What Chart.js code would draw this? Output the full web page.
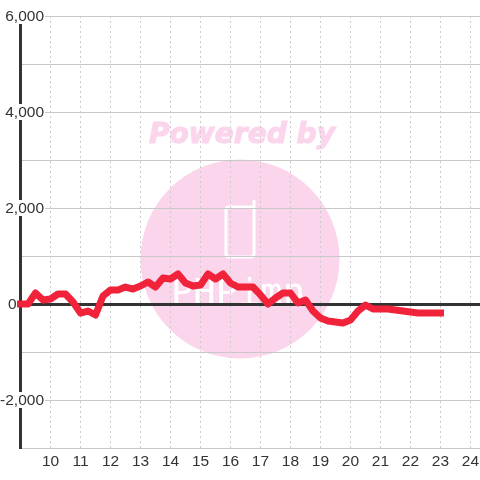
<!DOCTYPE html>
<html>
<head>
<meta charset="utf-8">
<style>
  html, body { margin: 0; padding: 0; background: #fff; }
  canvas { display: block; }
</style>
<script src="https://cdn.jsdelivr.net/npm/chart.js@4/dist/chart.umd.min.js"></script>
</head>
<body>
<canvas id="chart" width="480" height="480"></canvas>
<script>
// hour of day, one reading every 15 minutes
const hours = [
  9, 9.25, 9.5, 9.75, 10, 10.25, 10.5, 10.75, 11, 11.25, 11.5, 11.75,
  12, 12.25, 12.5, 12.75, 13, 13.25, 13.5, 13.75, 14, 14.25, 14.5, 14.75,
  15, 15.25, 15.5, 15.75, 16, 16.25, 16.5, 16.75, 17, 17.25, 17.5, 17.75,
  18, 18.25, 18.5, 18.75, 19, 19.25, 19.5, 19.75, 20, 20.25, 20.5, 20.75,
  21, 21.25, 21.5, 21.75, 22, 22.25, 22.5, 22.75, 23
];
const values = [
  0, 0, 229, 83, 104, 208, 208, 42, -188, -146, -229, 167,
  292, 292, 354, 312, 375, 458, 354, 542, 521, 625, 438, 375,
  396, 625, 521, 625, 438, 354, 354, 354, 188, 0, 125, 229,
  229, 21, 83, -146, -292, -354, -375, -396, -333, -146, -21, -104,
  -104, -104, -125, -146, -167, -188, -188, -188, -188
];
const xTicks = [10, 11, 12, 13, 14, 15, 16, 17, 18, 19, 20, 21, 22, 23, 24];
const yTickLabels = [6000, 4000, 2000, 0, -2000];

const INK = '#333333';
const GRID = '#c8c8c8';
const PINK = '#fbd5ec';

// pale logo behind the grid
const watermark = {
  id: 'watermark',
  beforeDraw(chart) {
    const ctx = chart.ctx;
    ctx.save();
    ctx.fillStyle = '#ffffff';
    ctx.fillRect(0, 0, chart.width, chart.height);

    ctx.fillStyle = PINK;
    ctx.strokeStyle = PINK;
    ctx.lineWidth = 1.2;
    ctx.font = 'italic bold 29px "DejaVu Sans"';
    ctx.textAlign = 'center';
    ctx.textBaseline = 'middle';
    ctx.fillText('Powered by', 242, 135.5, 186);
    ctx.strokeText('Powered by', 242, 135.5, 186);

    ctx.beginPath();
    ctx.arc(240, 259, 99.5, 0, Math.PI * 2);
    ctx.fill();

    // handset
    ctx.strokeStyle = '#ffffff';
    ctx.lineWidth = 3;
    ctx.lineJoin = 'round';
    ctx.lineCap = 'round';
    ctx.beginPath();
    ctx.moveTo(254, 201);
    ctx.lineTo(254, 254);
    ctx.quadraticCurveTo(254, 257, 251, 257);
    ctx.lineTo(229, 257);
    ctx.quadraticCurveTo(226, 257, 226, 254);
    ctx.lineTo(226, 210);
    ctx.quadraticCurveTo(226, 207, 229, 207);
    ctx.lineTo(254, 207);
    ctx.stroke();

    ctx.fillStyle = '#ffffff';
    ctx.font = '38px "DejaVu Sans Mono"';
    ctx.textAlign = 'left';
    ctx.textBaseline = 'alphabetic';
    ctx.fillText('PHPimn', 171, 305, 134);
    ctx.restore();
  }
};

// y labels sit across the axis line and blank it out behind them
const yLabels = {
  id: 'yLabels',
  beforeDatasetsDraw(chart) {
    const ctx = chart.ctx;
    const y = chart.scales.y;
    ctx.save();
    ctx.font = '15.5px "Liberation Sans"';
    ctx.textAlign = 'right';
    ctx.textBaseline = 'middle';
    yTickLabels.forEach(v => {
      const text = v.toLocaleString('en-US');
      const right = v === 0 ? 16.5 : 44;
      const py = y.getPixelForValue(v);
      const w = ctx.measureText(text).width;
      ctx.fillStyle = '#ffffff';
      ctx.fillRect(right - w, py - 8, w + 1, 16);
      ctx.fillStyle = INK;
      ctx.fillText(text, right, py + 0.5);
    });
    ctx.restore();
  }
};

new Chart(document.getElementById('chart'), {
  type: 'line',
  data: {
    datasets: [{
      data: hours.map((h, i) => ({ x: h, y: values[i] })),
      borderColor: '#f0233a',
      borderWidth: 7,
      borderCapStyle: 'square',
      borderJoinStyle: 'round',
      pointRadius: 0,
      tension: 0,
      clip: false
    }]
  },
  options: {
    responsive: false,
    animation: false,
    devicePixelRatio: 1,
    layout: { padding: { left: 20.5, top: 16, right: 0, bottom: 0 } },
    plugins: { legend: { display: false }, tooltip: { enabled: false } },
    scales: {
      x: {
        type: 'linear',
        min: 9,
        max: 24.317,
        afterBuildTicks: scale => { scale.ticks = xTicks.map(value => ({ value })); },
        afterFit: scale => {
          scale.height = 32;
          scale.paddingLeft = 0;
          scale.paddingRight = 0;
        },
        grid: { color: '#cccccc', lineWidth: 1, drawTicks: false },
        border: { display: false, dash: [2, 3] },
        ticks: {
          color: INK,
          font: { family: '"Liberation Sans"', size: 15.5 },
          padding: 4,
          autoSkip: false,
          maxRotation: 0,
          callback: v => String(v)
        }
      },
      y: {
        min: -3000,
        max: 6000,
        afterFit: scale => { scale.width = 0; },
        grid: {
          color: c => (c.tick.value === 0 ? INK : GRID),
          lineWidth: c => (c.tick.value === 0 ? 3 : 1),
          drawTicks: false
        },
        border: { display: true, color: INK, width: 3 },
        ticks: { display: false, stepSize: 1000 }
      }
    }
  },
  plugins: [watermark, yLabels]
});
</script>
</body>
</html>
